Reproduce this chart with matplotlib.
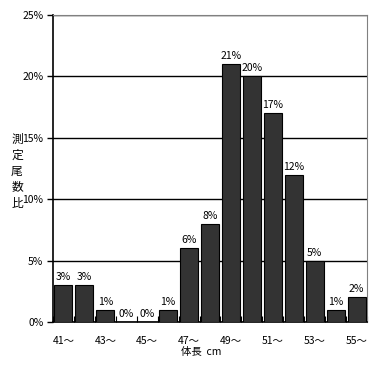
import numpy as np
import matplotlib
matplotlib.use('Agg')
import matplotlib.pyplot as plt

plt.rcParams['font.family'] = ['Noto Sans CJK JP', 'DejaVu Sans']

lengths = ['41～', '42～', '43～', '44～', '45～', '46～', '47～', '48～',
           '49～', '50～', '51～', '52～', '53～', '54～', '55～']
ratios = [3, 3, 1, 0, 0, 1, 6, 8, 21, 20, 17, 12, 5, 1, 2]

fig = plt.figure(figsize=(3.82, 3.67), dpi=100)
ax = fig.add_axes([53/382, 1-322/367, 314/382, 307/367])

ind = np.arange(len(ratios))
ax.bar(ind, ratios, 0.86, color='#333333', edgecolor='black', linewidth=0.8, zorder=3)
for x, v in zip(ind, ratios):
    ax.text(x, v + 0.25, '%d%%' % v, ha='center', va='bottom', fontsize=7.5)

ax.set_xlim(-0.5, len(ratios) - 0.5)
ax.set_ylim(0, 25)
ax.set_yticks(range(0, 26, 5))
ax.set_yticklabels(['%d%%' % t for t in range(0, 26, 5)], fontsize=7.5)
ax.yaxis.grid(True, color='black', linewidth=1, zorder=0)
ax.tick_params(axis='y', direction='out', length=4, width=1, pad=3)

# ticks at category boundaries, labels every other category
ax.set_xticks(np.arange(len(ratios) + 1) - 0.5)
ax.set_xticklabels([])
ax.tick_params(axis='x', direction='in', length=4, width=0.8)
for x in ind[::2]:
    ax.text(x, -1.1, lengths[x], ha='center', va='top', fontsize=7.5)

for s in ['top', 'right']:
    ax.spines[s].set_color('#808080')
for s in ['left', 'bottom']:
    ax.spines[s].set_color('black')
    ax.spines[s].set_linewidth(1.2)

fig.text(201/382, 1-352/367, '体長  cm', ha='center', va='center', fontsize=7.5)
fig.text(17/382, 1-171/367, '測\n定\n尾\n数\n比', ha='center', va='center',
         fontsize=8.5, linespacing=1.3)

fig.savefig('out.png', dpi=100)
